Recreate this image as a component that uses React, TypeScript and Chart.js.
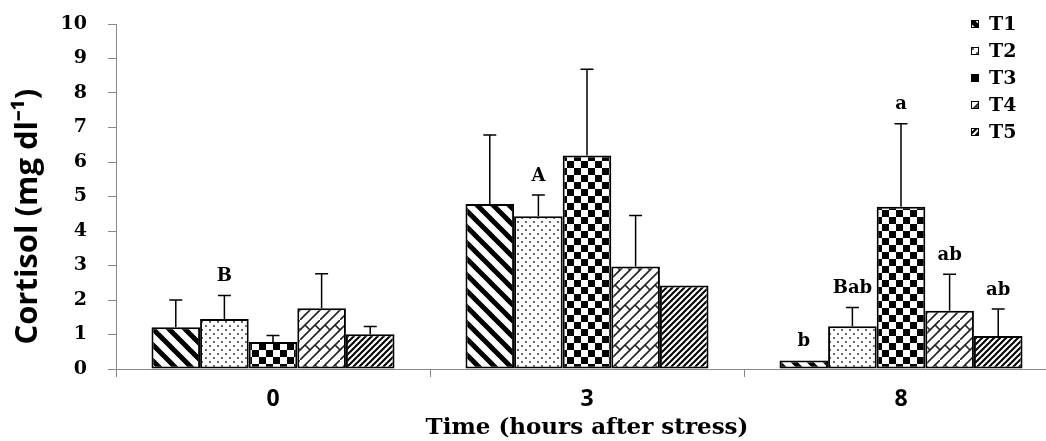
import React, { useEffect, useRef } from "react";
import { Chart, registerables } from "chart.js";

Chart.register(...registerables);

const categories = ["0", "3", "8"];
const seriesNames = ["T1", "T2", "T3", "T4", "T5"];
const yTickValues = [0, 1, 2, 3, 4, 5, 6, 7, 8, 9, 10];

const t1Values = [1.21, 4.78, 0.25];
const t2Values = [1.45, 4.43, 1.24];
const t3Values = [0.78, 6.19, 4.7];
const t4Values = [1.76, 2.97, 1.69];
const t5Values = [1.01, 2.42, 0.96];

const t1Errors = [0.79, 2.0, null];
const t2Errors = [0.68, 0.61, 0.54];
const t3Errors = [0.19, 2.5, 2.41];
const t4Errors = [1.0, 1.48, 1.06];
const t5Errors = [0.22, null, 0.78];

const t1Letters = ["", "", "b"];
const t2Letters = ["B", "A", "Bab"];
const t3Letters = ["", "", "a"];
const t4Letters = ["", "", "ab"];
const t5Letters = ["", "", "ab"];

const xTitle = "Time (hours after stress)";
const yTitle = "Cortisol (mg dl\u207B\u00B9)     ";

function makePattern(size: number, draw: (g: CanvasRenderingContext2D, s: number) => void) {
  const c = document.createElement("canvas");
  c.width = size;
  c.height = size;
  const g = c.getContext("2d")!;
  g.fillStyle = "#ffffff";
  g.fillRect(0, 0, size, size);
  draw(g, size);
  return g.createPattern(c, "repeat")!;
}

function buildPatterns() {
  const p1 = makePattern(16, (g, s) => {
    g.strokeStyle = "#000";
    g.lineWidth = 5;
    for (const o of [-s, 0, s]) {
      g.beginPath();
      g.moveTo(o - 2, -2);
      g.lineTo(o + s + 2, s + 2);
      g.stroke();
    }
  });
  const p2 = makePattern(8, (g) => {
    g.fillStyle = "#333";
    for (const [x, y] of [[2, 2], [6, 6]]) {
      g.beginPath();
      g.arc(x, y, 1, 0, Math.PI * 2);
      g.fill();
    }
  });
  const p3 = makePattern(14, (g) => {
    g.fillStyle = "#000";
    g.fillRect(0, 0, 7, 7);
    g.fillRect(7, 7, 7, 7);
  });
  const p4 = makePattern(20, (g, s) => {
    g.strokeStyle = "#222";
    g.lineWidth = 1.6;
    const seg = (a: number, b: number, c: number, d: number) => {
      g.beginPath();
      g.moveTo(a, b);
      g.lineTo(c, d);
      g.stroke();
    };
    seg(-1, s + 1, s + 1, -1);
    seg(-1, 11, 11, -1);
    seg(9, s + 1, s + 1, 9);
    seg(5, 5, 10, 10);
    seg(15, 5, 20, 10);
    seg(-5, 5, 0, 10);
  });
  const p5 = makePattern(6, (g, s) => {
    g.strokeStyle = "#000";
    g.lineWidth = 2;
    for (const o of [-s, 0, s]) {
      g.beginPath();
      g.moveTo(o - 1, s + 1);
      g.lineTo(o + s + 1, -1);
      g.stroke();
    }
  });
  return [p1, p2, p3, p4, p5];
}

export default function App() {
  const ref = useRef<HTMLCanvasElement>(null);

  useEffect(() => {
    const canvas = ref.current!;
    const patterns = buildPatterns();
    const values = [t1Values, t2Values, t3Values, t4Values, t5Values];
    const errors = [t1Errors, t2Errors, t3Errors, t4Errors, t5Errors];
    const letters = [t1Letters, t2Letters, t3Letters, t4Letters, t5Letters];

    const errorPlugin = {
      id: "errorBarsAndLetters",
      afterDatasetsDraw(chart: any) {
        const ctx = chart.ctx;
        const yScale = chart.scales.y;
        ctx.save();
        ctx.strokeStyle = "#000";
        ctx.lineWidth = 1.5;
        ctx.fillStyle = "#000";
        ctx.font = "bold 18px 'DejaVu Serif'";
        ctx.textAlign = "center";
        ctx.textBaseline = "middle";
        chart.data.datasets.forEach((ds: any, i: number) => {
          const meta = chart.getDatasetMeta(i);
          meta.data.forEach((bar: any, j: number) => {
            const v = values[i][j];
            const e = errors[i][j];
            let topY = bar.y;
            if (e != null) {
              const ey = yScale.getPixelForValue(v + e);
              ctx.beginPath();
              ctx.moveTo(bar.x, bar.y);
              ctx.lineTo(bar.x, ey);
              ctx.moveTo(bar.x - 6.5, ey);
              ctx.lineTo(bar.x + 6.5, ey);
              ctx.stroke();
              topY = ey;
            }
            const l = letters[i][j];
            if (l) ctx.fillText(l, bar.x, topY - 19);
          });
        });
        ctx.restore();
      },
    };

    const legendPlugin = {
      id: "customLegend",
      afterDraw(chart: any) {
        const ctx = chart.ctx;
        ctx.save();
        ctx.font = "bold 19px 'DejaVu Serif'";
        ctx.textAlign = "left";
        ctx.textBaseline = "middle";
        seriesNames.forEach((name, i) => {
          const cy = 24 + i * 27;
          const bx = 971;
          const by = cy - 4;
          ctx.save();
          ctx.translate(bx, by);
          ctx.fillStyle = patterns[i];
          ctx.fillRect(0, 0, 8, 8);
          ctx.strokeStyle = "#000";
          ctx.lineWidth = 1;
          ctx.strokeRect(0.5, 0.5, 7, 7);
          ctx.restore();
          ctx.fillStyle = "#000";
          ctx.fillText(name, 989, cy + 1);
        });
        ctx.restore();
      },
    };

    const chart = new Chart(canvas, {
      type: "bar",
      data: {
        labels: categories,
        datasets: seriesNames.map((name, i) => ({
          label: name,
          data: values[i],
          backgroundColor: patterns[i],
          borderColor: "#000",
          borderWidth: 2,
          borderSkipped: false,
          categoryPercentage: 0.774,
          barPercentage: 1,
        })),
      },
      options: {
        responsive: false,
        animation: false,
        devicePixelRatio: 1,
        layout: { padding: { left: 0, right: 12, top: 24, bottom: 0 } },
        plugins: {
          legend: { display: false },
          tooltip: { enabled: false },
        },
        scales: {
          x: {
            grid: {
              display: true,
              offset: true,
              drawOnChartArea: false,
              drawTicks: true,
              tickLength: 8,
              color: "#888",
            },
            border: { color: "#888", width: 1 },
            ticks: {
              color: "#000",
              font: { family: "'Open Sans'", weight: "bold", size: 23 },
              padding: 9,
            },
            title: {
              display: true,
              text: xTitle,
              color: "#000",
              font: { family: "'DejaVu Serif'", weight: "bold", size: 23, lineHeight: 1 },
              padding: { top: 0, bottom: 1 },
            },
            afterFit(scale: any) {
              scale.height = 72;
              scale.paddingLeft = 0;
              scale.paddingRight = 0;
            },
          },
          y: {
            min: 0,
            max: 10,
            afterBuildTicks(scale: any) {
              scale.ticks = yTickValues.map((v) => ({ value: v }));
            },
            grid: {
              display: true,
              drawOnChartArea: false,
              drawTicks: true,
              tickLength: 8,
              color: "#888",
            },
            border: { color: "#888", width: 1 },
            ticks: {
              color: "#000",
              font: { family: "'DejaVu Serif'", weight: "bold", size: 19 },
              padding: 21,
            },
            title: {
              display: true,
              text: yTitle,
              color: "#000",
              font: { family: "'Open Sans'", weight: "bold", size: 31, lineHeight: 1.2 },
              padding: { top: 10, bottom: 0 },
            },
            afterFit(scale: any) {
              scale.width = 116;
              scale.paddingTop = 0;
              scale.paddingBottom = 0;
            },
          },
        },
      },
      plugins: [errorPlugin, legendPlugin],
    } as any);

    return () => chart.destroy();
  }, []);

  return (
    <div
      style={{
        position: "fixed",
        left: 0,
        top: 0,
        width: 1046,
        height: 441,
        overflow: "hidden",
        background: "#fff",
      }}
    >
      <canvas ref={ref} width={1070} height={441} style={{ width: 1070, height: 441, display: "block" }} />
    </div>
  );
}
